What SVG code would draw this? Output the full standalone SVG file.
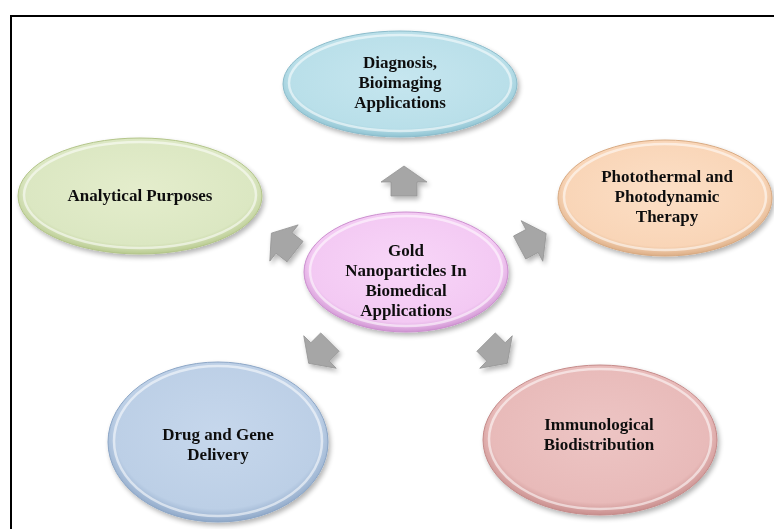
<svg xmlns="http://www.w3.org/2000/svg" width="774" height="529" viewBox="0 0 774 529">
<defs>
<filter id="sh" x="-20%" y="-20%" width="140%" height="140%"><feGaussianBlur in="SourceAlpha" stdDeviation="2.5"/><feOffset dx="2" dy="3"/><feComponentTransfer><feFuncA type="linear" slope="0.3"/></feComponentTransfer><feMerge><feMergeNode/><feMergeNode in="SourceGraphic"/></feMerge></filter>
<radialGradient id="gBlue" cx="50%" cy="45%" r="55%"><stop offset="0" stop-color="#c6e6ef"/><stop offset="0.85" stop-color="#b9dfe9"/><stop offset="1" stop-color="#8fc3d2"/></radialGradient>
<radialGradient id="gGreen" cx="50%" cy="45%" r="55%"><stop offset="0" stop-color="#e4edcc"/><stop offset="0.85" stop-color="#dbe7c2"/><stop offset="1" stop-color="#b8ca8f"/></radialGradient>
<radialGradient id="gPeach" cx="50%" cy="45%" r="55%"><stop offset="0" stop-color="#fcdfc6"/><stop offset="0.85" stop-color="#f9d5b7"/><stop offset="1" stop-color="#dcae86"/></radialGradient>
<radialGradient id="gPink" cx="50%" cy="45%" r="55%"><stop offset="0" stop-color="#f8d6f8"/><stop offset="0.85" stop-color="#f3c9f3"/><stop offset="1" stop-color="#cf94d2"/></radialGradient>
<radialGradient id="gSteel" cx="50%" cy="45%" r="55%"><stop offset="0" stop-color="#c6d7ec"/><stop offset="0.85" stop-color="#bccfe6"/><stop offset="1" stop-color="#8fa8c8"/></radialGradient>
<radialGradient id="gRose" cx="50%" cy="45%" r="55%"><stop offset="0" stop-color="#edc5c4"/><stop offset="0.85" stop-color="#e8bab9"/><stop offset="1" stop-color="#c88e8d"/></radialGradient>
<path id="arw" d="M0,-16 L23,0 L13,0 L13,14 L-13,14 L-13,0 L-23,0 Z"/>
</defs>
<style>
.rim{fill:none;stroke:#ffffff;stroke-opacity:0.55;stroke-width:2.5}
.t{font-family:"Liberation Serif","Times New Roman",serif;font-weight:bold;font-size:17px;fill:#111111;text-anchor:middle}
.a{fill:#a6a6a6;stroke:#969696;stroke-width:0.8}
</style>
<rect x="0" y="0" width="774" height="529" fill="#ffffff"/>
<path d="M11,529 L11,16 L774,16" fill="none" stroke="#000000" stroke-width="2"/>

<g id="connectors" filter="url(#sh)">
<use href="#arw" class="a" transform="translate(404,182)"/>
<use href="#arw" class="a" transform="translate(284,243) rotate(-52)"/>
<use href="#arw" class="a" transform="translate(532,241) rotate(62)"/>
<use href="#arw" class="a" transform="translate(320,352) rotate(-135)"/>
<use href="#arw" class="a" transform="translate(496,352) rotate(135)"/>
</g>

<g id="diagnosis" filter="url(#sh)">
<ellipse cx="400" cy="84" rx="117" ry="53" fill="url(#gBlue)" stroke="#8cbccb" stroke-width="1"/>
<ellipse cx="400" cy="83" rx="111" ry="48" class="rim"/>
<text class="t" x="400" y="68">Diagnosis,</text>
<text class="t" x="400" y="88">Bioimaging</text>
<text class="t" x="400" y="108">Applications</text>
</g>

<g id="analytical" filter="url(#sh)">
<ellipse cx="140" cy="196" rx="122" ry="58" fill="url(#gGreen)" stroke="#b3c58a" stroke-width="1"/>
<ellipse cx="140" cy="195" rx="116" ry="53" class="rim"/>
<text class="t" x="140" y="201">Analytical Purposes</text>
</g>

<g id="photothermal" filter="url(#sh)">
<ellipse cx="665" cy="198" rx="107" ry="58" fill="url(#gPeach)" stroke="#d8aa82" stroke-width="1"/>
<ellipse cx="665" cy="197" rx="101" ry="53" class="rim"/>
<text class="t" x="667" y="182">Photothermal and</text>
<text class="t" x="667" y="202">Photodynamic</text>
<text class="t" x="667" y="222">Therapy</text>
</g>

<g id="center" filter="url(#sh)">
<ellipse cx="406" cy="272" rx="102" ry="60" fill="url(#gPink)" stroke="#cc8fcf" stroke-width="1"/>
<ellipse cx="406" cy="271" rx="96" ry="55" class="rim"/>
<text class="t" x="406" y="256">Gold</text>
<text class="t" x="406" y="276">Nanoparticles In</text>
<text class="t" x="406" y="296">Biomedical</text>
<text class="t" x="406" y="316">Applications</text>
</g>

<g id="drug" filter="url(#sh)">
<ellipse cx="218" cy="442" rx="110" ry="80" fill="url(#gSteel)" stroke="#8ca6c6" stroke-width="1"/>
<ellipse cx="218" cy="441" rx="104" ry="75" class="rim"/>
<text class="t" x="218" y="440">Drug and Gene</text>
<text class="t" x="218" y="460">Delivery</text>
</g>

<g id="immunological" filter="url(#sh)">
<ellipse cx="600" cy="440" rx="117" ry="75" fill="url(#gRose)" stroke="#c58b8a" stroke-width="1"/>
<ellipse cx="600" cy="439" rx="111" ry="70" class="rim"/>
<text class="t" x="599" y="430">Immunological</text>
<text class="t" x="599" y="450">Biodistribution</text>
</g>
</svg>
